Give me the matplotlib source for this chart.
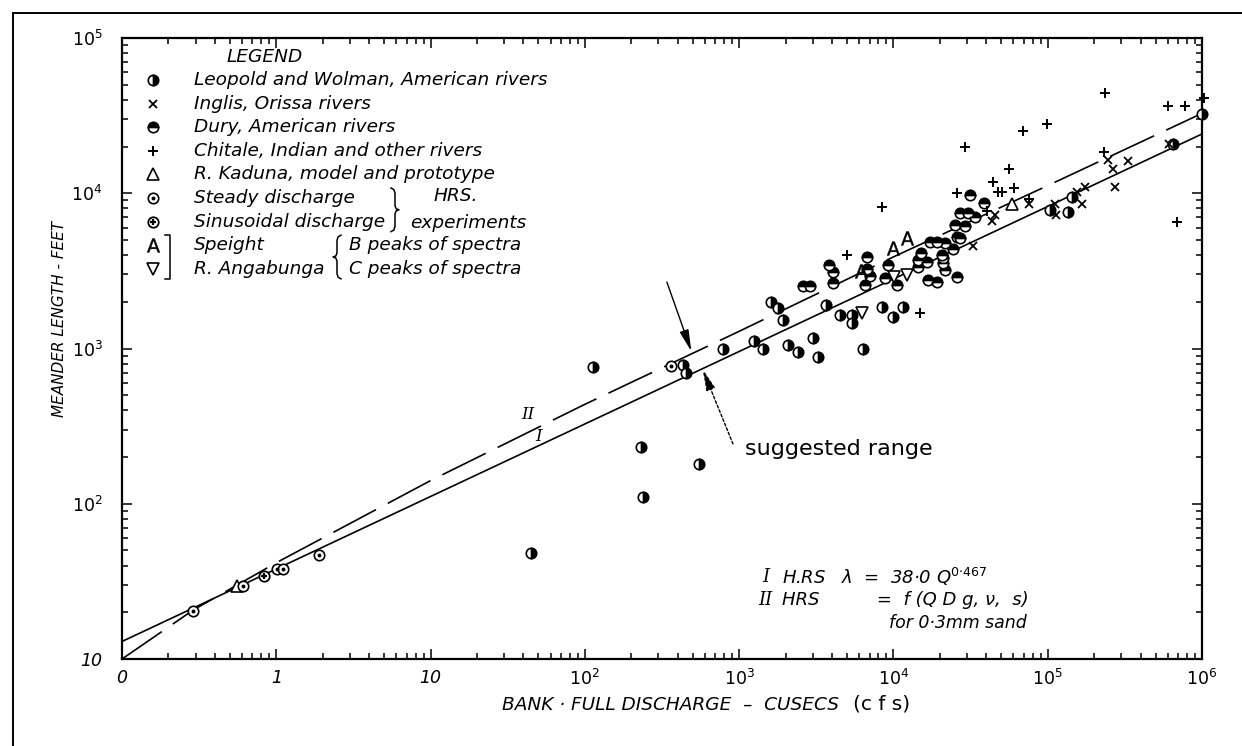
import numpy as np
import matplotlib
matplotlib.use("Agg")
import matplotlib.pyplot as plt
from matplotlib.lines import Line2D
from matplotlib.ticker import FixedLocator, FixedFormatter, LogLocator, NullFormatter

plt.rcParams['font.family'] = ['DejaVu Sans']
plt.rcParams['mathtext.fontset'] = 'dejavusans'
plt.rcParams['mathtext.default'] = 'it'

# ---------------- data: bank-full discharge Q (cfs) and meander length L (ft)
leopold_q = [45, 113, 230, 239, 551, 431, 452, 782, 1250, 1430, 2080, 2390, 2990, 3250,
             6370, 1610, 1790, 1910, 3660, 4500, 5350, 5350, 8380, 9880, 11500,
             103000, 135000, 143000, 647000, 1000000]
leopold_l = [48, 764, 231, 111, 179, 783, 692, 1000, 1110, 993, 1050, 953, 1160, 885,
             1000, 2000, 1820, 1530, 1910, 1640, 1640, 1450, 1860, 1600, 1860,
             7820, 7520, 9400, 20700, 32400]

inglis_q = [75800, 45500, 43300, 32900, 111000, 114000, 154000, 166000, 247000, 266000,
            332000, 273000, 611000, 174000]
inglis_l = [8530, 7240, 6650, 4570, 8530, 7240, 10200, 8530, 16400, 14300,
            16100, 10900, 20700, 10900]

dury_q = [38600, 31300, 27000, 30500, 33700, 25000, 29000, 25700, 27000, 21600, 24400,
          20800, 20800, 21600, 25700, 17300, 19100, 15200, 14500, 16400, 14500, 20500,
          16800, 19100, 3840, 4040, 4040, 2600, 2870, 6700, 6700, 7050, 6530, 9250,
          8810, 10600]
dury_l = [8650, 9750, 7430, 7500, 7070, 6240, 6150, 5250, 5130, 4760, 4360,
          3810, 3540, 3210, 2900, 4880, 4880, 4100, 3720, 3620, 3370, 4000,
          2760, 2690, 3450, 3120, 2630, 2530, 2530, 3870, 3240, 2930, 2570, 3450,
          2830, 2570]

chitale_q = [8380, 25700, 4980, 14900, 29000, 69300, 99300, 235000, 604000, 775000,
             1030000, 56200, 44400, 47800, 50500, 60400, 75500, 40200, 231000, 684000]
chitale_l = [8110, 10100, 4000, 1690, 19800, 25300, 27900, 44000, 36700, 36700,
             41000, 14400, 11900, 10200, 10200, 10800, 9190, 7730, 18500, 6560]

kaduna_q = [0.556, 58300]
kaduna_l = [29.5, 8530]

steady_q = [0.288, 0.608, 1.01, 1.10, 1.90, 360]
steady_l = [20.4, 29.5, 38.0, 38.0, 46.8, 771]

sinus_q = [0.832]
sinus_l = [34.3]

speight_q = [9880, 12200, 6120]
speight_l = [4420, 5130, 3170]

angabunga_q = [10100, 12300, 6220]
angabunga_l = [2900, 2970, 1700]

# curve I : lambda = 38.0 Q^0.467
hrs1_coef = 38.0
hrs1_exp = 0.467
hrs1_q = [0.1, 1.0e6]

# curve II : HRS function of (Q, D, g, nu, s) for 0.3 mm sand
hrs2_q = [0.1, 0.29, 1, 10, 100, 1000, 10000, 100000, 1000000]
hrs2_l = [10, 20.7, 41.7, 141, 437, 1290, 3890, 11200, 32700]

x_ticks = [0.1, 1, 10, 1e2, 1e3, 1e4, 1e5, 1e6]
x_tick_labels = ['0', '1', '10', '$10^{2}$', '$10^{3}$', '$10^{4}$', '$10^{5}$', '$10^{6}$']
y_ticks = [10, 1e2, 1e3, 1e4, 1e5]
y_tick_labels = ['10', '$10^{2}$', '$10^{3}$', '$10^{4}$', '$10^{5}$']

# ---------------- figure
W, H = 1242, 746
fig = plt.figure(figsize=(W / 100, H / 100), dpi=100)
fig.patch.set_facecolor('white')


def fx(x):
    return x / W


def fy(y):
    return 1 - y / H


ax = fig.add_axes([fx(122), fy(659), 1080 / W, 621 / H])
ax.set_xscale('log')
ax.set_yscale('log')
ax.set_xlim(0.1, 1e6)
ax.set_ylim(10, 1e5)

ax.xaxis.set_major_locator(FixedLocator(x_ticks))
ax.xaxis.set_major_formatter(FixedFormatter(x_tick_labels))
ax.yaxis.set_major_locator(FixedLocator(y_ticks))
ax.yaxis.set_major_formatter(FixedFormatter(y_tick_labels))
for axis in (ax.xaxis, ax.yaxis):
    axis.set_minor_locator(LogLocator(base=10, subs=np.arange(2, 10), numticks=50))
    axis.set_minor_formatter(NullFormatter())

ax.tick_params(which='both', direction='in', top=True, right=True, color='black', width=1.1)
ax.tick_params(which='major', length=7)
ax.tick_params(which='minor', length=4)
ax.tick_params(axis='x', pad=7, labelsize=12.5)
ax.tick_params(axis='y', pad=14, labelsize=12.5)
for lbl in ax.get_xticklabels() + ax.get_yticklabels():
    lbl.set_fontstyle('italic')
for sp in ax.spines.values():
    sp.set_linewidth(1.6)

# ---------------- marker styles
ms_c = 7.5
leopold_style = dict(marker='o', ms=ms_c, mfc='black', markerfacecoloralt='white',
                     mec='black', mew=1.2, fillstyle='right')
dury_style = dict(marker='o', ms=ms_c, mfc='black', markerfacecoloralt='white',
                  mec='black', mew=1.2, fillstyle='top')
inglis_style = dict(marker='x', ms=6, mec='black', mew=1.3)
chitale_style = dict(marker='+', ms=7.5, mec='black', mew=1.4)
kaduna_style = dict(marker='^', ms=8, mfc='white', mec='black', mew=1.2)
steady_style = dict(marker='o', ms=ms_c, mfc='white', mec='black', mew=1.2)
steady_dot = dict(marker='o', ms=1.8, mfc='black', mec='black')
sinus_style = dict(marker='o', ms=ms_c, mfc='white', mec='black', mew=1.3)
sinus_cross = dict(marker='+', ms=5, mec='black', mew=1.6)
speight_style = dict(marker='$\\mathsf{A}$', ms=10, mfc='black', mec='black', mew=0.3)
anga_style = dict(marker='v', ms=8, mfc='white', mec='black', mew=1.2)

# ---------------- curves
hrs1_l = [hrs1_coef * q ** hrs1_exp for q in hrs1_q]
ax.plot(hrs1_q, hrs1_l, color='black', lw=1.2, zorder=2)
ax.plot(hrs2_q, hrs2_l, color='black', lw=1.2, dashes=(29, 8), zorder=2)

# ---------------- data points
def pts(q, l, **style):
    ax.plot(q, l, linestyle='none', clip_on=False, zorder=3, **style)

pts(leopold_q, leopold_l, **leopold_style)
pts(dury_q, dury_l, **dury_style)
pts(inglis_q, inglis_l, **inglis_style)
pts(chitale_q, chitale_l, **chitale_style)
pts(kaduna_q, kaduna_l, **kaduna_style)
pts(steady_q, steady_l, **steady_style)
pts(steady_q, steady_l, **steady_dot)
pts(sinus_q, sinus_l, **sinus_style)
pts(sinus_q, sinus_l, **sinus_cross)
pts(speight_q, speight_l, **speight_style)
pts(angabunga_q, angabunga_l, **anga_style)

# ---------------- curve labels and suggested-range arrows
ax.text(43, 378, 'II', family='DejaVu Serif', fontstyle='italic', fontsize=12,
        ha='center', va='center')
ax.text(50, 272, 'I', family='DejaVu Serif', fontstyle='italic', fontsize=12,
        ha='center', va='center')

ax.annotate('', xy=(490, 960), xytext=(340, 2680),
            arrowprops=dict(arrowstyle='-|>,head_length=1.3,head_width=0.28',
                            color='black', lw=1.0, shrinkA=0, shrinkB=0))
ax.annotate('', xy=(580, 735), xytext=(912, 243),
            arrowprops=dict(arrowstyle='-|>,head_length=1.3,head_width=0.28',
                            color='black', lw=1.0, ls=(0, (2, 1.5)), shrinkA=0, shrinkB=0))
fig.text(fx(745), fy(449), 'suggested range', fontsize=16, ha='left', va='center')

# ---------------- equations
eq_kw = dict(fontstyle='italic', fontsize=13, ha='left', va='center')
fig.text(fx(762), fy(577), 'I', family='DejaVu Serif', **eq_kw)
fig.text(fx(782), fy(577), 'H.RS   λ  =  38·0 Q$^{0{\\cdot}467}$', **eq_kw)
fig.text(fx(758), fy(600), 'II', family='DejaVu Serif', **eq_kw)
fig.text(fx(782), fy(600), 'HRS          =  f (Q D g, ν,  s)', **eq_kw)
fig.text(fx(889), fy(623), 'for 0·3mm sand', fontstyle='italic', fontsize=12.5,
         ha='left', va='center')

# ---------------- legend block
lg_kw = dict(fontstyle='italic', fontsize=13.3, ha='left', va='center')
fig.text(fx(265), fy(57), 'LEGEND', fontstyle='italic', fontsize=13.3, ha='center', va='center')
rows = [80 + 23.6 * i for i in range(9)]
entries = ['Leopold and Wolman, American rivers', 'Inglis, Orissa rivers',
           'Dury, American rivers', 'Chitale, Indian and other rivers',
           'R. Kaduna, model and prototype', 'Steady discharge',
           'Sinusoidal discharge', 'Speight', 'R. Angabunga']
styles = [[leopold_style], [inglis_style], [dury_style], [chitale_style], [kaduna_style],
          [steady_style, steady_dot], [sinus_style, sinus_cross], [speight_style], [anga_style]]
for y, label, sty in zip(rows, entries, styles):
    for s in sty:
        fig.add_artist(Line2D([fx(153)], [fy(y)], linestyle='none', **s))
    fig.text(fx(194), fy(y), label, **lg_kw)

fig.text(fx(433), fy(rows[5] - 2), 'HRS.', **lg_kw)
fig.text(fx(410), fy(rows[6] + 1), 'experiments', **lg_kw)
fig.text(fx(349), fy(rows[7]), 'B peaks of spectra', **lg_kw)
fig.text(fx(349), fy(rows[8]), 'C peaks of spectra', **lg_kw)


def bracket_line(xs, ys, lw=1.1):
    fig.add_artist(Line2D([fx(v) for v in xs], [fy(v) for v in ys], color='black', lw=lw))


def brace(x, y0, y1, w, right=True):
    ym = 0.5 * (y0 + y1)
    s = 1 if right else -1
    xs = [x, x + s * w * 0.35, x + s * w * 0.5, x + s * w * 0.5, x + s * w * 0.65, x + s * w,
          x + s * w * 0.65, x + s * w * 0.5, x + s * w * 0.5, x + s * w * 0.35, x]
    ys = [y0, y0 + 1.5, y0 + 5, ym - 4, ym - 1, ym, ym + 1, ym + 4, y1 - 5, y1 - 1.5, y1]
    bracket_line(xs, ys)


brace(391, rows[5] - 10, rows[6] + 10, 8, right=True)
brace(341, rows[7] - 10, rows[8] + 10, 8, right=False)
bracket_line([165, 170, 170, 165], [rows[7] - 10, rows[7] - 10, rows[8] + 10, rows[8] + 10])

# ---------------- axis titles
fig.text(fx(60), fy(319), 'MEANDER LENGTH - FEET', rotation=90, fontstyle='italic',
         fontsize=11, ha='center', va='center')
fig.text(fx(502), fy(705), 'BANK · FULL DISCHARGE  –  CUSECS', fontstyle='italic',
         fontsize=13.3, ha='left', va='center')
fig.text(fx(853), fy(704), '(c f s)', fontsize=14.5, ha='left', va='center')

# ---------------- page frame
fig.add_artist(Line2D([fx(13), fx(13)], [0, fy(13)], color='black', lw=1.4))
fig.add_artist(Line2D([fx(13), 1], [fy(13), fy(13)], color='black', lw=1.4))

fig.savefig('out.png', dpi=100, facecolor='white')
